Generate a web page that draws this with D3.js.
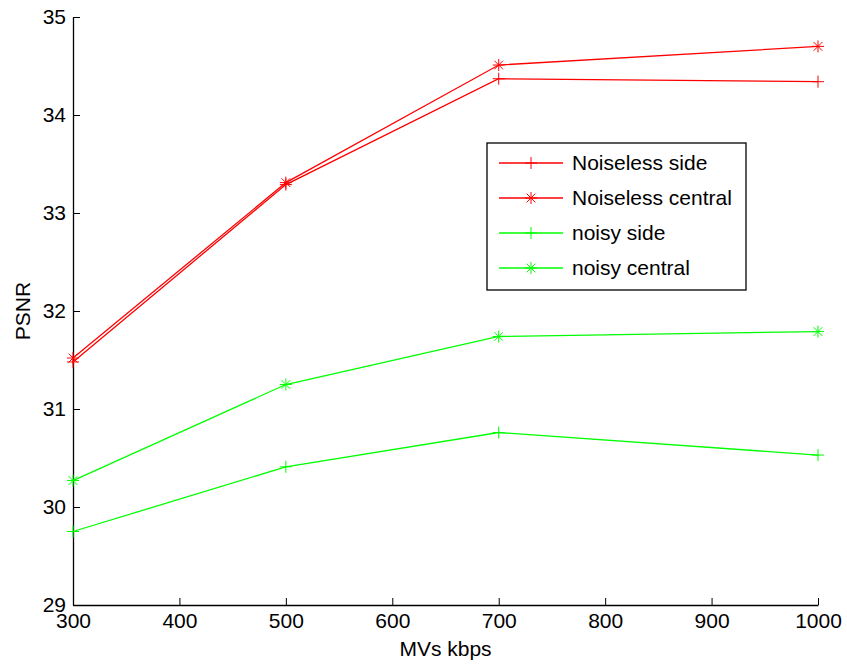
<!DOCTYPE html>
<html>
<head>
<meta charset="utf-8">
<script src="https://cdn.jsdelivr.net/npm/d3@7"></script>
<style>
  html, body { margin: 0; padding: 0; background: #fff; }
  svg { display: block; font-family: "Liberation Sans", Arial, sans-serif; }
</style>
</head>
<body>
<svg id="chart" width="847" height="666"></svg>
<script>
// Bitrate of motion vectors (kbps)
const rates = [300, 500, 700, 1000];

// PSNR per series
const noiselessSide    = [31.48, 33.29, 34.37, 34.34];
const noiselessCentral = [31.52, 33.31, 34.51, 34.70];
const noisySide        = [29.75, 30.41, 30.76, 30.53];
const noisyCentral     = [30.27, 31.25, 31.74, 31.79];

const seriesNames  = ["Noiseless side", "Noiseless central", "noisy side", "noisy central"];
const seriesColors = ["#ff0000", "#ff0000", "#00ff00", "#00ff00"];
const seriesMarks  = ["plus", "star", "plus", "star"];
const seriesValues = [noiselessSide, noiselessCentral, noisySide, noisyCentral];

const xTicks = [300, 400, 500, 600, 700, 800, 900, 1000];
const yTicks = [29, 30, 31, 32, 33, 34, 35];

const svg = d3.select("#chart");
const plotL = 73, plotR = 818, plotT = 17, plotB = 605;
const fontSize = "21px";

const x = d3.scaleLinear().domain([300, 1000]).range([plotL, plotR]);
const y = d3.scaleLinear().domain([29, 35]).range([plotB, plotT]);

// Axes with inward ticks
const xAxis = svg.append("g").attr("transform", `translate(0,${plotB})`)
  .call(d3.axisBottom(x).tickValues(xTicks).tickFormat(d3.format("d"))
    .tickSizeInner(-7).tickSizeOuter(0).tickPadding(14));
const yAxis = svg.append("g").attr("transform", `translate(${plotL},0)`)
  .call(d3.axisLeft(y).tickValues(yTicks).tickFormat(d3.format("d"))
    .tickSizeInner(-7).tickSizeOuter(0).tickPadding(7));

[xAxis, yAxis].forEach(g => {
  g.select(".domain").attr("stroke", "#000").attr("stroke-width", 1.3);
  g.selectAll(".tick line").attr("stroke", "#000").attr("stroke-width", 1);
  g.selectAll(".tick text").attr("fill", "#000").style("font-size", fontSize)
    .style("font-family", "'Liberation Sans', Arial, sans-serif");
});
xAxis.selectAll(".tick text").attr("dy", "0.45em");

// Marker drawing
function drawMarker(g, kind, cx, cy, color) {
  const r = 6;
  const p = d3.path();
  p.moveTo(cx - r, cy); p.lineTo(cx + r, cy);
  p.moveTo(cx, cy - r); p.lineTo(cx, cy + r);
  if (kind === "star") {
    const d = r * 0.72;
    p.moveTo(cx - d, cy - d); p.lineTo(cx + d, cy + d);
    p.moveTo(cx - d, cy + d); p.lineTo(cx + d, cy - d);
  }
  g.append("path").attr("d", p.toString()).attr("stroke", color)
    .attr("stroke-width", 1).attr("fill", "none");
}

const line = d3.line().x((d, i) => x(rates[i])).y(d => y(d));

seriesValues.forEach((vals, s) => {
  const g = svg.append("g");
  g.append("path").datum(vals).attr("d", line)
    .attr("fill", "none").attr("stroke", seriesColors[s]).attr("stroke-width", 1.3);
  vals.forEach((v, i) => drawMarker(g, seriesMarks[s], x(rates[i]), y(v), seriesColors[s]));
});

// Legend
const lg = svg.append("g");
lg.append("rect").attr("x", 487).attr("y", 143).attr("width", 259).attr("height", 147)
  .attr("fill", "#fff").attr("stroke", "#000").attr("stroke-width", 1.3);
const rowY = [163, 198, 233, 268];
seriesNames.forEach((name, s) => {
  lg.append("line").attr("x1", 499).attr("x2", 563).attr("y1", rowY[s]).attr("y2", rowY[s])
    .attr("stroke", seriesColors[s]).attr("stroke-width", 1.3);
  drawMarker(lg, seriesMarks[s], 531, rowY[s], seriesColors[s]);
  lg.append("text").attr("x", 572).attr("y", rowY[s]).attr("dy", "0.35em")
    .style("font-size", fontSize).attr("fill", "#000").text(name);
});

// Axis titles
svg.append("text").attr("x", (plotL + plotR) / 2).attr("y", 656)
  .attr("text-anchor", "middle").style("font-size", fontSize).text("MVs kbps");
svg.append("text").attr("transform", `translate(30,${(plotT + plotB) / 2}) rotate(-90)`)
  .attr("text-anchor", "middle").style("font-size", fontSize).text("PSNR");
</script>
</body>
</html>
